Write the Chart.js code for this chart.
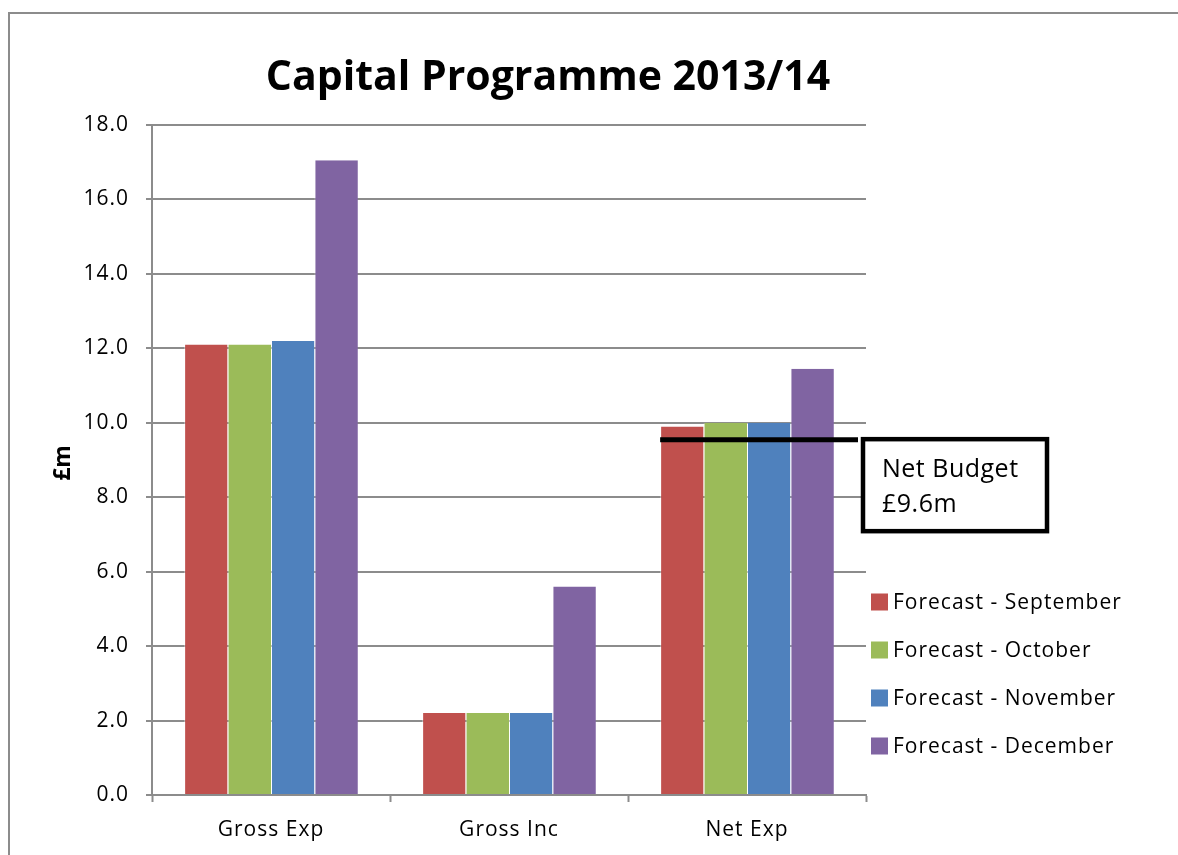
<!DOCTYPE html>
<html>
<head>
<meta charset="utf-8">
<title>Capital Programme 2013/14</title>
<script src="https://cdn.jsdelivr.net/npm/chart.js@4"></script>
<style>
    html, body { margin: 0; padding: 0; background: #fff; }
    #wrap { position: relative; width: 1178px; height: 855px; overflow: hidden; }
    /* chart object frame, runs off the right and bottom edges */
    #frame { position: absolute; left: 8px; top: 12px; width: 1200px; height: 900px;
             border-left: 2px solid #8c8c8c; border-top: 2px solid #8c8c8c; }
    #capChart { position: absolute; left: 0; top: 0; }
</style>
</head>
<body>
<div id="wrap">
    <div id="frame"></div>
    <canvas id="capChart" width="1178" height="855"></canvas>
</div>
<script>
const FONT = "'Open Sans', 'Noto Sans', sans-serif";

const categories = ['Gross Exp', 'Gross Inc', 'Net Exp'];
const seriesNames = ['Forecast - September', 'Forecast - October', 'Forecast - November', 'Forecast - December'];
const septemberVals = [12.1, 2.2, 9.9];
const octoberVals = [12.1, 2.2, 10.0];
const novemberVals = [12.2, 2.2, 10.0];
const decemberVals = [17.05, 5.6, 11.45];
const seriesColours = ['#C0504D', '#9BBB59', '#4F81BD', '#8064A2'];
const netBudget = 9.6;
const netBudgetLines = ['Net Budget', '£9.6m'];

const yMin = 0, yMax = 18, yStep = 1;

// wider tracking for all text, set before chart.js paints the scales
const spacingPlugin = {
    id: 'spacing',
    beforeLayout(chart) { chart.ctx.letterSpacing = '1px'; },
    beforeDraw(chart) { chart.ctx.letterSpacing = '1px'; },
};

// Title, axis name, legend and the net budget marker are painted by hand
const decorPlugin = {
    id: 'decor',
    afterDraw(chart) {
        const { ctx, scales } = chart;
        ctx.save();

        // title
        ctx.letterSpacing = '0px';
        ctx.fillStyle = '#000';
        ctx.font = `bold 41px ${FONT}`;
        ctx.textAlign = 'center';
        ctx.textBaseline = 'alphabetic';
        ctx.fillText('Capital Programme 2013/14', 548, 90);

        // y axis name
        ctx.save();
        ctx.translate(63, 463);
        ctx.rotate(-Math.PI / 2);
        ctx.font = `bold 23px ${FONT}`;
        ctx.textBaseline = 'middle';
        ctx.fillText('£m', 0, 0);
        ctx.restore();

        // legend
        ctx.letterSpacing = '1px';
        ctx.textAlign = 'left';
        ctx.textBaseline = 'middle';
        ctx.font = `21px ${FONT}`;
        chart.data.datasets.forEach((ds, i) => {
            const cy = 602 + i * 48;
            ctx.fillStyle = ds.backgroundColor;
            ctx.fillRect(871, cy - 8.5, 17, 17);
            ctx.fillStyle = '#000';
            ctx.fillText(ds.label, 893, cy + 1);
        });

        // net budget marker across the Net Exp group
        const first = chart.getDatasetMeta(0).data[2];
        const y = scales.y.getPixelForValue(netBudget) + 2;
        const x0 = first.x - first.width / 2;
        const x1 = 858;
        ctx.strokeStyle = '#000';
        ctx.lineWidth = 5;
        ctx.beginPath();
        ctx.moveTo(x0, y);
        ctx.lineTo(x1, y);
        ctx.stroke();

        const bx = 863, by = y - 0.5, bw = 184, bh = 92;
        ctx.fillStyle = '#fff';
        ctx.fillRect(bx, by, bw, bh);
        ctx.lineWidth = 4.5;
        ctx.strokeRect(bx, by, bw, bh);
        ctx.fillStyle = '#000';
        ctx.letterSpacing = '0.5px';
        ctx.font = `25px ${FONT}`;
        ctx.textBaseline = 'alphabetic';
        ctx.fillText(netBudgetLines[0], 882, 477);
        ctx.fillText(netBudgetLines[1], 882, 512);

        ctx.restore();
    }
};

const datasets = [septemberVals, octoberVals, novemberVals, decemberVals].map((vals, i) => ({
    label: seriesNames[i],
    data: vals,
    backgroundColor: seriesColours[i],
    borderColor: 'rgba(255,255,255,0.45)',
    borderWidth: { left: 1, right: 0, top: 0, bottom: 0 },
    categoryPercentage: 0.73,
    barPercentage: 1.0,
}));

new Chart(document.getElementById('capChart'), {
    type: 'bar',
    data: { labels: categories, datasets },
    options: {
        responsive: false,
        animation: false,
        events: [],
        layout: { padding: { left: 0, top: 125, right: 1178 - 866, bottom: 0 } },
        plugins: {
            legend: { display: false },
            title: { display: false },
            tooltip: { enabled: false },
        },
        scales: {
            x: {
                offset: true,
                afterFit(s) { s.height = 855 - 795; },
                grid: {
                    offset: true,
                    drawOnChartArea: false,
                    tickLength: 7,
                    tickColor: '#8c8c8c',
                    tickWidth: 2,
                },
                border: { color: '#8c8c8c', width: 2 },
                ticks: { color: '#000', font: { family: FONT, size: 21 }, padding: 15 },
            },
            y: {
                min: yMin,
                max: yMax,
                afterFit(s) { s.width = 152; },
                grid: {
                    color: ctx => (ctx.tick && ctx.tick.value % 2 === 0) ? '#8c8c8c' : 'rgba(0,0,0,0)',
                    lineWidth: 2,
                    tickLength: 6,
                    tickColor: '#8c8c8c',
                    tickWidth: 2,
                },
                border: { color: '#8c8c8c', width: 2 },
                ticks: {
                    stepSize: yStep,
                    color: '#000',
                    padding: 17,
                    font: { family: FONT, size: 21 },
                    callback: v => (v % 2 === 0) ? v.toFixed(1) : null,
                },
            },
        },
    },
    plugins: [spacingPlugin, decorPlugin],
});
</script>
</body>
</html>
